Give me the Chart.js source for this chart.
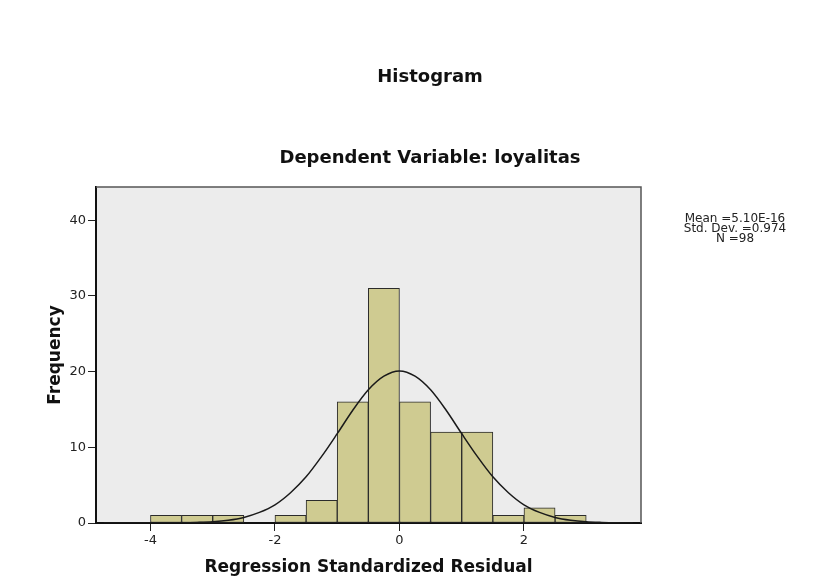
<!DOCTYPE html>
<html>
<head>
<meta charset="utf-8">
<script src="https://cdn.jsdelivr.net/npm/chart.js@4.4.1/dist/chart.umd.min.js"></script>
<style>
  body { margin: 0; background: #fff; }
  #wrap { width: 839px; height: 587px; }
</style>
</head>
<body>
<div id="wrap"><canvas id="histo" width="839" height="587"></canvas></div>
<script>
// histogram of the residuals, bin width 0.5
const binCenters = [-3.75, -3.25, -2.75, -2.25, -1.75, -1.25, -0.75, -0.25, 0.25, 0.75, 1.25, 1.75, 2.25, 2.75];
const counts     = [1, 1, 1, 0, 1, 3, 16, 31, 16, 12, 12, 1, 2, 1];

// normal curve
const curveX = [-4.75, -4.5, -4.25, -4, -3.75, -3.5, -3.25, -3, -2.75, -2.5, -2.25, -2, -1.75, -1.5, -1.25, -1, -0.75, -0.5, -0.25,
                0, 0.25, 0.5, 0.75, 1, 1.25, 1.5, 1.75, 2, 2.25, 2.5, 2.75, 3, 3.25, 3.5, 3.75];
const curveY = [0, 0, 0.01, 0.01, 0.01, 0.03, 0.08, 0.17, 0.37, 0.74, 1.4, 2.4, 4.0, 6.1, 8.8, 11.8, 14.9, 17.6, 19.4,
                20.1, 19.4, 17.6, 14.9, 11.8, 8.8, 6.1, 4.0, 2.4, 1.4, 0.74, 0.37, 0.17, 0.08, 0.03, 0.01];

const xTicks = [-4, -2, 0, 2];
const yTicks = [0, 10, 20, 30, 40];

const chartTitle = "Histogram";
const chartSubtitle = "Dependent Variable: loyalitas";
const statsLines = ["Mean =5.10E-16", "Std. Dev. =0.974", "N =98"];

const spssText = {
  id: 'spssText',
  beforeDraw(chart) {
    const { ctx, chartArea: a } = chart;
    ctx.save();
    ctx.fillStyle = '#ffffff';
    ctx.fillRect(0, 0, chart.width, chart.height);
    ctx.fillStyle = '#ececec';
    ctx.fillRect(a.left, a.top, a.right - a.left, a.bottom - a.top);
    ctx.restore();
  },
  afterDatasetsDraw(chart) {
    const { ctx, chartArea: a } = chart;
    ctx.save();
    ctx.strokeStyle = '#555';
    ctx.lineWidth = 1.5;
    ctx.beginPath();
    ctx.moveTo(a.left, a.top);
    ctx.lineTo(a.right, a.top);
    ctx.lineTo(a.right, a.bottom);
    ctx.stroke();
    ctx.restore();
  },
  afterDraw(chart) {
    const ctx = chart.ctx;
    ctx.save();
    ctx.fillStyle = '#111';
    ctx.textAlign = 'center';
    ctx.textBaseline = 'alphabetic';
    ctx.font = 'bold 18px "DejaVu Sans"';
    ctx.fillText(chartTitle, 430, 82);
    ctx.fillText(chartSubtitle, 430, 163);
    ctx.font = '12px "DejaVu Sans"';
    ctx.fillStyle = '#222';
    statsLines.forEach((t, i) => ctx.fillText(t, 735, 222 + i * 10));
    ctx.restore();
  }
};

const tickFont = { family: 'DejaVu Sans', size: 13 };
const titleFont = { family: 'DejaVu Sans', size: 17, weight: 'bold' };

new Chart(document.getElementById('histo'), {
  type: 'bar',
  data: {
    datasets: [
      {
        type: 'line',
        data: curveX.map((x, i) => ({ x: x, y: curveY[i] })),
        borderColor: '#1a1a1a',
        borderWidth: 1.5,
        pointRadius: 0,
        cubicInterpolationMode: 'monotone',
        fill: false,
        order: 0
      },
      {
        type: 'bar',
        data: binCenters.map((x, i) => ({ x: x, y: counts[i] })),
        backgroundColor: '#cfcb91',
        borderColor: '#2b2b2b',
        borderWidth: 1,
        borderSkipped: false,
        barPercentage: 1,
        categoryPercentage: 1,
        grouped: false,
        order: 1
      }
    ]
  },
  options: {
    responsive: false,
    animation: false,
    layout: { padding: { left: 32, right: 198, top: 187, bottom: 6 } },
    plugins: { legend: { display: false }, tooltip: { enabled: false } },
    scales: {
      x: {
        type: 'linear',
        min: -4.875,
        max: 3.88,
        offset: false,
        afterBuildTicks: s => { s.ticks = xTicks.map(v => ({ value: v })); },
        afterFit: s => { s.height = 58; },
        grid: { display: true, drawOnChartArea: false, drawTicks: true, tickLength: 8, color: '#222', offset: false },
        border: { display: true, color: '#111', width: 2 },
        ticks: { font: tickFont, color: '#222', padding: 2, maxRotation: 0 },
        title: { display: true, text: 'Regression Standardized Residual', font: titleFont, color: '#111', padding: { top: 0, bottom: 3 } }
      },
      y: {
        type: 'linear',
        min: 0,
        max: 44.4,
        afterBuildTicks: s => { s.ticks = yTicks.map(v => ({ value: v })); },
        afterFit: s => { s.width = 64; },
        grid: { display: true, drawOnChartArea: false, drawTicks: true, tickLength: 8, color: '#222' },
        border: { display: true, color: '#111', width: 2 },
        ticks: { font: tickFont, color: '#222', padding: 2 },
        title: { display: true, text: 'Frequency', font: titleFont, color: '#111', padding: { top: 13, bottom: 0 } }
      }
    }
  },
  plugins: [spssText]
});
</script>
</body>
</html>
